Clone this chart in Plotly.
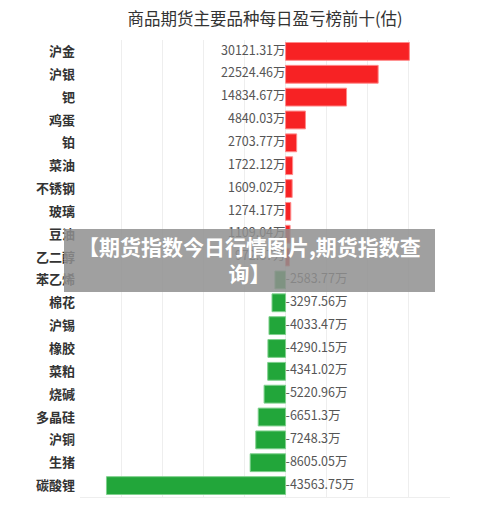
import plotly.graph_objects as go

categories = ["沪金", "沪银", "钯", "鸡蛋", "铂", "菜油", "不锈钢", "玻璃", "豆油", "乙二醇",
              "苯乙烯", "棉花", "沪锡", "橡胶", "菜粕", "烧碱", "多晶硅", "沪铜", "生猪", "碳酸锂"]
values = [30121.31, 22524.46, 14834.67, 4840.03, 2703.77, 1722.12, 1609.02, 1274.17, 1109.04, 972.87,
          -2583.77, -3297.56, -4033.47, -4290.15, -4341.02, -5220.96, -6651.3, -7248.3, -8605.05, -43563.75]
title_text = "商品期货主要品种每日盈亏榜前十(估)"
overlay_text = "【期货指数今日行情图片,期货指数查<br>询】"

FONT = "Noto Sans CJK SC"
RED = "#f72224"
GREEN = "#22a63a"

# page body has an 8px default margin; figure is sized to fill the rest
W, H = 492, 513
L, R, T, B = 72, 50, 32, 24
PW, PH = W - L - R, H - T - B

colors = [RED if v >= 0 else GREEN for v in values]
line_colors = ["#ff8a8a" if v >= 0 else "#7fd08d" for v in values]
labels = [f"{v}万" for v in values]

fig = go.Figure()
fig.add_trace(go.Bar(
    x=values, y=categories, orientation="h",
    marker=dict(color=colors, line=dict(color=line_colors, width=1)),
    hoverinfo="skip", showlegend=False,
))
pos_idx = [i for i, v in enumerate(values) if v >= 0]
neg_idx = [i for i, v in enumerate(values) if v < 0]
fig.add_trace(go.Scatter(
    x=[0] * len(pos_idx), y=[categories[i] for i in pos_idx],
    text=[labels[i] for i in pos_idx], mode="text", textposition="middle left",
    textfont=dict(family=FONT, size=12.5, color="#555555"),
    showlegend=False, hoverinfo="skip", cliponaxis=False,
))
fig.add_trace(go.Scatter(
    x=[0] * len(neg_idx), y=[categories[i] for i in neg_idx],
    text=[labels[i] for i in neg_idx], mode="text", textposition="middle right",
    textfont=dict(family=FONT, size=12.5, color="#555555"),
    showlegend=False, hoverinfo="skip", cliponaxis=False,
))

fig.update_layout(
    width=W, height=H,
    margin=dict(l=L, r=R, t=T, b=B),
    paper_bgcolor="white", plot_bgcolor="white",
    bargap=0.22,
    title=dict(text=title_text, x=(L + PW / 2) / W, xanchor="center",
               y=1 - 11 / H, yanchor="middle",
               font=dict(family=FONT, size=16.5, color="#333333")),
    xaxis=dict(range=[-50000, 40000], dtick=10000, tick0=0, showticklabels=False,
               showgrid=True, gridcolor="#eeeeee", gridwidth=1, zeroline=False,
               showline=True, linecolor="#eeeeee", mirror=False, ticks="",
               automargin=False, fixedrange=True),
    yaxis=dict(range=[len(categories) - 0.5, -0.5], showgrid=False, zeroline=False,
               tickfont=dict(family=FONT, size=13, color="#333333", weight="bold"),
               ticks="", ticklen=0, ticklabelstandoff=4, automargin=False,
               fixedrange=True),
    font=dict(family=FONT),
    shapes=[dict(type="rect", xref="paper", yref="paper",
                 x0=(56 - L) / PW, x1=(427 - L) / PW,
                 y0=(T + PH - 284) / PH, y1=(T + PH - 221) / PH,
                 fillcolor="#8f8f8f", opacity=0.85, line=dict(width=0), layer="above")],
    annotations=[dict(text=overlay_text, xref="paper", yref="paper",
                      x=(241.5 - L) / PW, y=(T + PH - 252) / PH,
                      xanchor="center", yanchor="middle", showarrow=False,
                      align="center",
                      font=dict(family=FONT, size=21, color="white", weight="bold"))],
)

fig.write_html("out.html")
